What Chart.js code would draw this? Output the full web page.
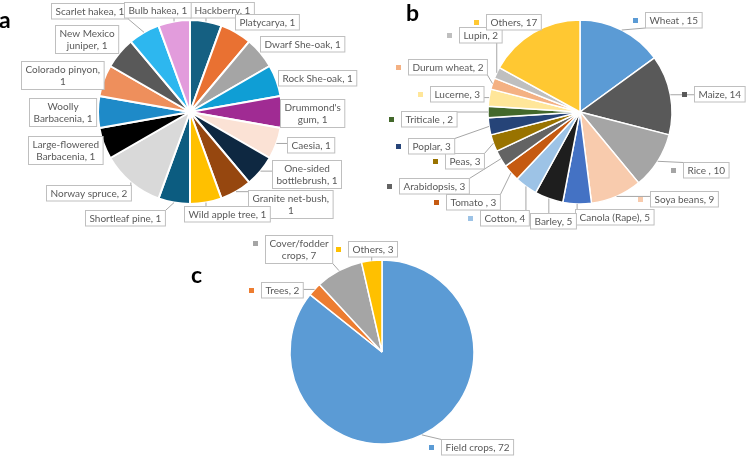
<!DOCTYPE html>
<html>
<head>
<meta charset="utf-8">
<script src="https://cdn.jsdelivr.net/npm/chart.js@4.4.1/dist/chart.umd.min.js"></script>
<style>
  html, body { margin: 0; padding: 0; background: #fff; }
  #wrap { position: relative; width: 747px; height: 456px; }
  canvas { position: absolute; left: 0; top: 0; }
</style>
</head>
<body>
<div id="wrap">
  <canvas id="chartA" width="747" height="456"></canvas>
  <canvas id="chartB" width="747" height="456"></canvas>
  <canvas id="chartC" width="747" height="456"></canvas>
</div>
<script>
// a: tree species (clockwise from 12 o'clock)
const treeNames = ["Hackberry", "Platycarya", "Dwarf She-oak", "Rock She-oak", "Drummond's gum",
  "Caesia", "One-sided bottlebrush", "Granite net-bush", "Wild apple tree", "Shortleaf pine",
  "Norway spruce", "Large-flowered Barbacenia", "Woolly Barbacenia", "Colorado pinyon",
  "New Mexico juniper", "Scarlet hakea", "Bulb hakea"];
const treeCounts = [1, 1, 1, 1, 1, 1, 1, 1, 1, 1, 2, 1, 1, 1, 1, 1, 1];
const treeColors = ["#156082", "#E97132", "#A5A5A5", "#0F9ED5", "#A02B93", "#FBE2D5", "#0E2841",
  "#96470F", "#FFC000", "#0C5C80", "#D9D9D9", "#000000", "#1E8AC8", "#EE8F5C", "#595959",
  "#2DB7EF", "#E29CDC"];

// b: crop species
const cropNames = ["Wheat ", "Maize", "Rice ", "Soya beans", "Canola (Rape)", "Barley", "Cotton",
  "Tomato ", "Arabidopsis", "Peas", "Poplar", "Triticale ", "Lucerne", "Durum wheat", "Lupin", "Others"];
const cropCounts = [15, 14, 10, 9, 5, 5, 4, 3, 3, 3, 3, 2, 3, 2, 2, 17];
const cropColors = ["#5B9BD5", "#595959", "#A5A5A5", "#F8CBAD", "#4472C4", "#1E1E1E", "#9DC3E6",
  "#C55A11", "#636363", "#997300", "#264478", "#43682B", "#FFE699", "#F4B183", "#BFBFBF", "#FFC832"];

// c: crop groups
const groupNames = ["Field crops", "Trees", "Cover/fodder crops", "Others"];
const groupCounts = [72, 2, 7, 3];
const groupColors = ["#5B9BD5", "#ED7D31", "#A5A5A5", "#FFC000"];

// callout box centres [x, y, words on first line]
const treeSpots = [[222, 10], [267, 22], [302, 44], [317, 78], [312, 113, 1], [311, 145],
  [307, 174, 1], [290, 204, 2], [227, 214], [125, 218], [88, 193], [65, 150, 1], [63, 112, 1],
  [62, 75, 2], [87, 39, 2], [89, 11], [157, 10]];
const cropSpots = [[673, 20], [719, 94], [706, 170], [684, 199], [614, 217], [553, 221], [504, 218],
  [473, 202], [434, 186], [464, 161], [431, 146], [429, 119], [457, 94], [447, 67], [480, 35], [513, 22]];
const groupSpots = [[477, 447], [282, 290], [299, 249, 1], [373, 249]];

const FONT = "10px Lato";
const LINE_H = 12.5;

const callouts = {
  id: "callouts",
  afterDatasetsDraw(chart, args, opts) {
    const ctx = chart.ctx;
    const ds = chart.data.datasets[0];
    const arcs = chart.getDatasetMeta(0).data;
    ctx.save();
    ctx.font = FONT;

    const boxes = opts.spots.map((spot, i) => {
      const words = (chart.data.labels[i] + ", " + ds.data[i]).split(" ");
      const lines = spot[2] ? [words.slice(0, spot[2]).join(" "), words.slice(spot[2]).join(" ")]
                            : [words.join(" ")];
      const w = Math.max(...lines.map(l => ctx.measureText(l).width)) + 8;
      const h = lines.length * LINE_H + 3;
      return { lines, left: Math.round(spot[0] - w / 2) + 0.5, top: Math.round(spot[1] - h / 2) + 0.5, w, h };
    });

    // leader lines
    ctx.strokeStyle = "#A6A6A6";
    ctx.lineWidth = 1;
    arcs.forEach((arc, i) => {
      const p = arc.getProps(["x", "y", "startAngle", "endAngle", "outerRadius"], true);
      const mid = (p.startAngle + p.endAngle) / 2;
      const ax = p.x + Math.cos(mid) * p.outerRadius;
      const ay = p.y + Math.sin(mid) * p.outerRadius;
      const b = boxes[i];
      const bx = Math.min(Math.max(ax, b.left), b.left + b.w);
      const by = Math.min(Math.max(ay, b.top), b.top + b.h);
      if (Math.hypot(ax - bx, ay - by) > 3) {
        ctx.beginPath();
        ctx.moveTo(bx, by);
        ctx.lineTo(ax, ay);
        ctx.stroke();
      }
    });

    // legend keys
    if (opts.keys) {
      boxes.forEach((b, i) => {
        ctx.fillStyle = ds.backgroundColor[i];
        ctx.fillRect(Math.round(b.left - 13), Math.round(b.top + 1.5 + LINE_H / 2 - 2.5), 5, 5);
      });
    }

    // boxes and text
    ctx.textAlign = "center";
    ctx.textBaseline = "middle";
    boxes.forEach(b => {
      ctx.fillStyle = "#fff";
      ctx.fillRect(b.left, b.top, b.w, b.h);
      ctx.strokeStyle = "#BFBFBF";
      ctx.strokeRect(b.left, b.top, b.w, b.h);
      ctx.fillStyle = "#595959";
      b.lines.forEach((l, k) => {
        ctx.fillText(l, b.left + b.w / 2, b.top + 1.5 + LINE_H * (k + 0.5) + 0.5);
      });
    });

    // panel letter
    ctx.font = "bold 23px Lato";
    ctx.fillStyle = "#000";
    ctx.textAlign = "left";
    ctx.textBaseline = "alphabetic";
    ctx.fillText(opts.letter[0], opts.letter[1], opts.letter[2]);
    ctx.restore();
  }
};

function drawPie(id, names, counts, colors, border, cx, cy, spots, keys, letter) {
  const W = 747, H = 456, R = 92;
  new Chart(document.getElementById(id), {
    type: "pie",
    data: {
      labels: names,
      datasets: [{ data: counts, backgroundColor: colors, borderColor: "#fff", borderWidth: border }]
    },
    options: {
      responsive: false,
      animation: false,
      radius: R,
      layout: { padding: { left: cx - 100, right: W - cx - 100, top: cy - 100, bottom: H - cy - 100 } },
      events: [],
      plugins: {
        legend: { display: false },
        tooltip: { enabled: false },
        callouts: { spots, keys, letter }
      }
    },
    plugins: [callouts]
  });
}

drawPie("chartA", treeNames, treeCounts, treeColors, 2, 190, 112, treeSpots, false, ["a", -1, 28]);
drawPie("chartB", cropNames, cropCounts, cropColors, 1.5, 580, 112, cropSpots, true, ["b", 406, 21]);
drawPie("chartC", groupNames, groupCounts, groupColors, 1.5, 382, 352, groupSpots, true, ["c", 191, 283]);
</script>
</body>
</html>
